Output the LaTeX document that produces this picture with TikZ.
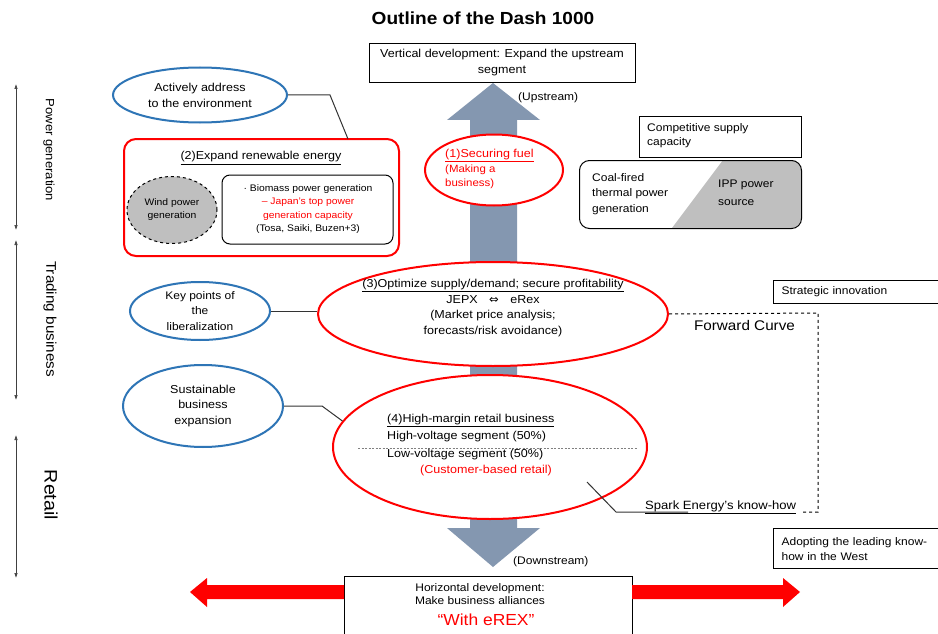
\documentclass[tikz,border=0pt]{standalone}
\usepackage{fontspec}
\setmainfont[FakeStretch=1.09]{Liberation Sans}
\newfontfamily\djv{DejaVu Sans}
\usetikzlibrary{shapes.geometric,arrows.meta}
\definecolor{shaftgray}{HTML}{8497B0}
\definecolor{ellblue}{HTML}{2E75B6}
\definecolor{boxgray}{HTML}{BFBFBF}
\newcommand{\fsz}[2]{\fontsize{#1}{#2}\selectfont}
\tikzset{
  blueell/.style={ellipse, draw=ellblue, line width=2pt, align=center, fill=white},
  redell/.style={ellipse, draw=red, line width=2pt, fill=white},
  conn/.style={draw=black!80, line width=1pt},
  axisarr/.style={draw=black!75, line width=0.6pt, {Latex[length=5pt,width=3.5pt]}-{Latex[length=5pt,width=3.5pt]}},
  boxs/.style={draw, line width=1.2pt, align=left, fill=white},
}
\begin{document}
\begin{tikzpicture}[x=1pt,y=-1pt, every node/.style={inner sep=0pt, font=\fsz{11}{14}}]
\useasboundingbox[fill=white] (0,0) rectangle (938,634);

% title
\node[font=\bfseries\fsz{17.5}{20}] (title) at (483,18) {Outline of the Dash 1000};

% left axis
\coordinate (p1) at (16,84);  \coordinate (p2) at (16,230);
\coordinate (t1) at (16,240); \coordinate (t2) at (16,400);
\coordinate (q1) at (16,435); \coordinate (q2) at (16,578);
\draw[axisarr] (p1) -- (p2);
\draw[axisarr] (t1) -- (t2);
\draw[axisarr] (q1) -- (q2);
\node[rotate=-90, font=\fsz{12}{13}] (lpg) at (49,150) {Power generation};
\node[rotate=-90, font=\fsz{14}{15}] (ltb) at (50,319) {Trading business};
\node[rotate=-90, font=\fsz{18}{19}] (lrt) at (51,495) {Retail};

% central shaft arrow
\fill[shaftgray] (493,83) -- (540,120) -- (517,120) -- (517,528) -- (540,528) -- (493,567)
  -- (447,528) -- (470,528) -- (470,120) -- (447,120) -- cycle;

% vertical development box
\node[draw, line width=1pt, fill=white, minimum width=266, minimum height=39, align=center,
      font=\fsz{11.5}{16}] (vert) at (502,63) {Vertical development: Expand the upstream\\segment};
\node[anchor=base west] (up) at (518,101) {(Upstream)};
\node[anchor=base west] (down) at (513,564) {(Downstream)};

% actively address
\node[blueell, minimum width=174, minimum height=55, font=\fsz{11.5}{16}] (act) at (200,95) {Actively address\\to the environment};
% renewable box
\node[draw=red, line width=2pt, rounded corners=12pt, minimum width=275, minimum height=117] (box2) at (261.5,197.5) {};
\node[font=\fsz{11.5}{13}] (t2t) at (261,158) {\underline{(2)Expand renewable energy}};
\node[ellipse, draw, dashed, fill=boxgray, line width=1pt, minimum width=90, minimum height=67,
      align=center, font=\fsz{9.5}{13}] (wind) at (172,210) {Wind power\\generation};
\node[draw, line width=1pt, rounded corners=8pt, minimum width=171, minimum height=69] (bio) at (307.5,209.5) {};
\node[align=center, font=\fsz{9.5}{13.2}] (biot) at (308,209) {· Biomass power generation\\\textcolor{red}{– Japan’s top power}\\\textcolor{red}{generation capacity}\\(Tosa, Saiki, Buzen+3)};
\coordinate (k1) at (330,95); \coordinate (k2) at (348,139);
\draw[conn] (act.east) -- (k1) -- (k2);

% (1) securing fuel
\node[redell, minimum width=138, minimum height=71] (e1) at (494,170) {};
\node[anchor=north west, align=left, text=red, font=\fsz{10.5}{14.5}] (e1t) at (445,149)
  {{\fsz{11.5}{14.5}\underline{(1)Securing fuel}}\\(Making a\\business)};

% competitive supply
\node[boxs, anchor=north west, minimum width=162, minimum height=41] (comp) at (639,116) {};
\node[anchor=north west, align=left, font=\fsz{11}{14.5}] (compt) at (647,123) {Competitive supply\\capacity};
\begin{scope}
  \clip[rounded corners=10pt] (579,160) rectangle (801,228);
  \fill[boxgray] (723,160) -- (810,160) -- (810,232) -- (669,232) -- cycle;
\end{scope}
\node[draw, line width=1pt, rounded corners=10pt, minimum width=222, minimum height=68, anchor=north west] (coal) at (579,160) {};
\node[anchor=north west, align=left, font=\fsz{11}{15.5}] (coalt) at (592,173) {Coal-fired\\thermal power\\generation};
\node[anchor=north west, align=left, font=\fsz{11}{18}] (ipp) at (718,180) {IPP power\\source};

% key points / (3)
\node[blueell, minimum width=140, minimum height=58, font=\fsz{11}{15.5}] (key) at (200,311) {Key points of\\the\\liberalization};
\node[redell, minimum width=350, minimum height=104] (e3) at (493,314) {};
\node[align=center, font=\fsz{11.5}{15.7}] (e3t) at (493,308)
  {\underline{(3)Optimize supply/demand; secure profitability}\\JEPX\quad{\djv ⇔}\quad eRex\\(Market price analysis;\\forecasts/risk avoidance)};
\draw[conn] (key.east) -- (key.east -| e3.west);

% sustainable / (4)
\node[blueell, minimum width=160, minimum height=82, font=\fsz{11.5}{15.5}] (sus) at (203,406) {Sustainable\\business\\expansion};
\node[redell, minimum width=314, minimum height=144] (e4) at (490,447) {};
\coordinate (s1) at (322,406);
\draw[conn] (sus.east) -- (s1) -- (e4.170);
\node[anchor=base west, font=\fsz{11.5}{14}] (r1) at (387,422) {\underline{(4)High-margin retail business}};
\node[anchor=base west, font=\fsz{11.5}{14}] (r2) at (387,439) {High-voltage segment (50\%)};
\coordinate (d1) at (358,448); \coordinate (d2) at (637,448);
\draw[black!50, dash pattern=on 2pt off 1.5pt, line width=0.6pt] (d1) -- (d2);
\node[anchor=base west, font=\fsz{11.5}{14}] (r3) at (387,457) {Low-voltage segment (50\%)};
\node[anchor=base west, text=red, font=\fsz{11.5}{14}] (r4) at (420,473) {(Customer-based retail)};

% spark energy
\node[anchor=base west, font=\fsz{12}{14}] (spark) at (645,509) {\underline{Spark Energy’s know-how}};
\coordinate (sp0) at (587,482); \coordinate (sp1) at (616,512); \coordinate (sp2) at (688,512);
\draw[conn] (sp0) -- (sp1) -- (sp2);

% forward curve
\coordinate (f1) at (818,313); \coordinate (f2) at (818,512); \coordinate (f3) at (803,512);
\draw[dashed, line width=1pt] (e3.east) -- (f1) -- (f2) -- (f3);
\node[font=\fsz{14}{16}] (fwd) at (744.5,325) {Forward Curve};

% right boxes
\node[boxs, anchor=north west, text width=154, inner xsep=8pt, minimum height=23] (strat) at (773,280) {Strategic innovation};
\node[boxs, anchor=north west, text width=154, inner xsep=8pt, minimum height=40, font=\fsz{11}{15}] (adopt) at (773,528) {Adopting the leading know-\\how in the West};

% horizontal development
\node[draw, line width=1pt, anchor=north west, minimum width=288, minimum height=70, fill=white] (hor) at (344,576) {};
\fill[red] (344,585) -- (207,585) -- (207,578) -- (190,592) -- (207,607) -- (207,599) -- (344,599) -- cycle;
\fill[red] (632,585) -- (783,585) -- (783,578) -- (800,592) -- (783,607) -- (783,599) -- (632,599) -- cycle;
\node[align=center, font=\fsz{11}{12.5}] (hort) at (480,594) {Horizontal development:\\Make business alliances};
\node[text=red, font=\fsz{16}{20}] (erex) at (486,620) {“With eREX”};
\end{tikzpicture}
\end{document}
